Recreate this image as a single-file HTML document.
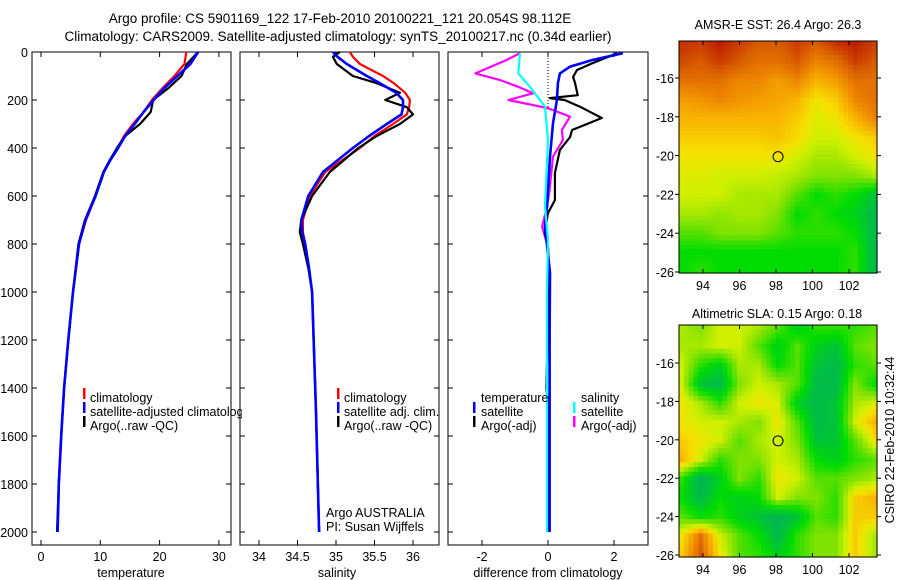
<!DOCTYPE html>
<html><head><meta charset="utf-8"><style>
html,body{margin:0;padding:0;background:#fff;}
svg{display:block;font-family:"Liberation Sans",sans-serif;}
</style></head><body>
<svg id="fig" width="900" height="580" viewBox="0 0 900 580" xmlns="http://www.w3.org/2000/svg">
<defs><clipPath id="legclip"><rect x="0" y="0" width="242" height="580"/></clipPath></defs>
<text x="340" y="23" font-size="13.5" text-anchor="middle">Argo profile: CS 5901169_122 17-Feb-2010 20100221_121 20.054S 98.112E</text>
<text x="338" y="41" font-size="13.5" text-anchor="middle">Climatology: CARS2009. Satellite-adjusted climatology: synTS_20100217.nc (0.34d earlier)</text>
<g id="p1"></g>
<g id="p2"></g>
<g id="p3"></g>
<g id="m1"></g>
<g id="m2"></g>
<text x="778" y="29" font-size="12.5" text-anchor="middle">AMSR-E SST: 26.4 Argo: 26.3</text>
<text x="777" y="318" font-size="12.5" text-anchor="middle">Altimetric SLA: 0.15 Argo: 0.18</text>
<text transform="translate(894,440) rotate(-90)" font-size="12.5" text-anchor="middle">CSIRO 22-Feb-2010 10:32:44</text>
</svg>
<script>
// ---- data ----
const tDepth=[0,50,100,150,200,250,300,350,400,450,500,600,700,800,1000,1200,1400,1600,1800,2000];
const tArgo=[26.5,24.6,23.7,21.5,18.9,18.5,16.7,14.2,12.8,11.6,10.5,9.1,7.4,6.3,5.4,4.6,3.9,3.4,3.0,2.7];
const tClim=[24.5,24.2,22.5,20.5,18.7,17.3,15.5,14.0,12.9,11.7,10.6,9.2,7.6,6.4,5.4,4.6,3.9,3.4,3.0,2.8];
const tSat=[26.5,25.2,23.0,20.8,19.0,17.3,15.8,14.2,13.0,11.7,10.6,9.2,7.5,6.4,5.4,4.6,3.9,3.4,3.0,2.8];
const sDepth=[0,20,50,100,130,170,200,230,260,300,350,400,500,600,700,750,800,900,1000,1500,2000];
const sArgo=[35.05,34.96,35.01,35.22,35.53,35.83,35.64,35.92,36.0,35.83,35.53,35.29,34.92,34.69,34.55,34.53,34.57,34.64,34.69,34.74,34.78];
const sClim=[35.18,35.22,35.31,35.61,35.75,35.9,35.96,35.95,35.92,35.74,35.5,35.31,34.86,34.66,34.57,34.57,34.6,34.65,34.69,34.74,34.78];
const sSat=[34.96,35.02,35.14,35.4,35.57,35.78,35.87,35.87,35.85,35.66,35.43,35.22,34.83,34.64,34.55,34.56,34.6,34.65,34.69,34.74,34.78];
const dTArgoDepth=[5,46,75,104,130,180,192,200,228,275,325,354,408,505,617,671,754,812,1000,1400,1500,2000];
const dTArgo=[2.1,1.36,0.88,0.76,0.82,0.9,0.06,0.5,0.97,1.63,0.73,0.67,0.36,0.21,0.21,0,-0.1,0,0.02,-0.05,0.02,0.02];
const dTSatDepth=[5,33,61,89,130,200,297,436,644,728,919,1200,2000];
const dTSat=[2.27,1.36,0.67,0.36,0.3,0.27,0.15,0.06,-0.03,-0.09,0.06,0.05,0.05];
const dSArgoDepth=[5,33,89,117,145,172,200,234,269,325,367,436,575,644,728,812,1000,2000];
const dSArgo=[-0.85,-1.25,-2.2,-1.45,-0.9,-0.45,-1.2,0,0.67,0.42,0.45,0.15,0.05,-0.03,-0.18,0,0.05,0.05];
const dSSatDepth=[5,89,145,228,367,644,783,1000,2000];
const dSSat=[-0.85,-0.9,-0.55,-0.09,0,-0.09,0,-0.03,-0.03];
const depthTicks=[0,200,400,600,800,1000,1200,1400,1600,1800,2000];
const tTicks=[0,10,20,30];
const sTicks=[34,34.5,35,35.5,36];
const dTicks=[-2,0,2];
const lonTicks=[94,96,98,100,102];
const latTicks=[-16,-18,-20,-22,-24,-26];
const argoLon=98.112, argoLat=-20.054;
const sstGrid=[
[.92,.9,.95,.9,.85,.85,.9,.85,.92,.95,.9],
[.88,.85,.9,.85,.8,.8,.85,.75,.8,.9,.85],
[.8,.8,.8,.75,.75,.7,.75,.65,.7,.8,.8],
[.7,.72,.75,.72,.7,.68,.65,.55,.6,.75,.8],
[.65,.65,.65,.65,.65,.65,.6,.52,.55,.65,.75],
[.6,.6,.6,.6,.6,.62,.57,.5,.5,.55,.6],
[.55,.55,.55,.55,.55,.55,.5,.45,.45,.5,.55],
[.52,.52,.5,.5,.5,.48,.45,.4,.4,.4,.45],
[.5,.5,.5,.45,.45,.45,.35,.25,.3,.25,.15],
[.45,.45,.42,.45,.45,.4,.25,.3,.25,.2,.1],
[.35,.35,.4,.4,.4,.35,.3,.3,.3,.25,.1],
[.25,.25,.25,.25,.25,.25,.25,.25,.25,.3,.1],
[.25,.3,.25,.25,.25,.25,.25,.25,.25,.3,.1]];
const slaGrid=[
[.45,.4,.5,.5,.45,.35,.2,.3,.3,.3,.35],
[.45,.45,.5,.5,.35,.2,.35,.2,.15,.35,.4],
[.5,.3,.2,.45,.45,.25,.35,.15,.1,.3,.35],
[.5,.15,.1,.4,.5,.45,.35,.1,.1,.4,.25],
[.55,.45,.3,.5,.55,.5,.2,.1,.15,.45,.5],
[.55,.5,.5,.45,.4,.55,.35,.1,.15,.5,.65],
[.6,.55,.5,.35,.45,.5,.4,.15,.15,.35,.55],
[.65,.5,.3,.4,.4,.5,.45,.25,.2,.3,.35],
[.3,.05,.2,.4,.3,.55,.5,.35,.35,.4,.45],
[.25,.1,.25,.2,.25,.5,.4,.4,.3,.6,.65],
[.35,.25,.3,.2,.15,.05,.15,.35,.3,.6,.6],
[.55,.8,.5,.35,.25,.1,.3,.4,.4,.6,.45],
[.6,.85,.55,.35,.3,.2,.3,.4,.4,.6,.45]];

const NS="http://www.w3.org/2000/svg";
function mk(tag,attrs,parent){const e=document.createElementNS(NS,tag);for(const k in attrs)e.setAttribute(k,attrs[k]);parent.appendChild(e);return e;}
const yDepth=d=>52+d*0.24;
const xT=v=>41+5.93*v, xS=v=>259+77*(v-34), xD=v=>548+33*v;

function panel(g,x0,x1,name){
  const r=mk('rect',{x:x0,y:52,width:x1-x0,height:493,fill:'none',stroke:'#000','stroke-width':1},g);
  
  
  depthTicks.forEach(d=>{
    const y=yDepth(d);
    mk('line',{x1:x0,x2:x0+5,y1:y,y2:y,stroke:'#000'},g);
    mk('line',{x1:x1-5,x2:x1,y1:y,y2:y,stroke:'#000'},g);
  });
}
function xticks(g,ticks,fx,fmt){
  ticks.forEach(v=>{
    const x=fx(v);
    mk('line',{x1:x,x2:x,y1:52,y2:57,stroke:'#000'},g);
    mk('line',{x1:x,x2:x,y1:540,y2:545,stroke:'#000'},g);
    const t=mk('text',{x:x,y:561,'font-size':12.5,'text-anchor':'middle'},g);
    t.textContent=fmt?fmt(v):v;
    
    
  });
}
function line(g,depths,vals,fx,color,name,w){
  const pts=depths.map((d,i)=>fx(vals[i]).toFixed(1)+','+yDepth(d).toFixed(1)).join(' ');
  const p=mk('polyline',{points:pts,fill:'none',stroke:color,'stroke-width':w||2.2,'stroke-linejoin':'round'},g);
  
  
}
function label(g,x,y,s,name,anchor){
  const t=mk('text',{x:x,y:y,'font-size':12.5,'text-anchor':anchor||'start'},g);
  t.textContent=s;
  
  
  return t;
}
function mark(g,x,y,c){mk('rect',{x:x,y:y-10,width:2.5,height:11,fill:c},g);}

// panel 1
const p1=document.getElementById('p1');
panel(p1,32,231,'temperature-panel');
depthTicks.forEach(d=>{
  label(p1,28,yDepth(d)+5,String(d),'y-tick-label','end');
});
xticks(p1,tTicks,xT);
line(p1,tDepth,tClim,xT,'#ff0000','temperature-climatology-line');
line(p1,tDepth,tArgo,xT,'#000000','temperature-argo-line');
line(p1,tDepth,tSat,xT,'#0000ff','temperature-satellite-line',2.6);
label(p1,131,577,'temperature','x-axis-title-temperature','middle');
mark(p1,83,398,'#f00');mark(p1,83,412,'#00f');mark(p1,83,426,'#000');
label(p1,90,402,'climatology','legend-entry-climatology');
label(p1,90,416,'satellite-adjusted climatology','legend-entry-satellite-adjusted').setAttribute('clip-path','url(#legclip)');
label(p1,90,430,'Argo(..raw -QC)','legend-entry-argo');

// panel 2
const p2=document.getElementById('p2');
panel(p2,240,439,'salinity-panel');
xticks(p2,sTicks,xS);
line(p2,sDepth,sClim,xS,'#ff0000','salinity-climatology-line');
line(p2,sDepth,sArgo,xS,'#000000','salinity-argo-line');
line(p2,sDepth,sSat,xS,'#0000ff','salinity-satellite-line',2.6);
label(p2,337,577,'salinity','x-axis-title-salinity','middle');
mark(p2,337,398,'#f00');mark(p2,337,412,'#00f');mark(p2,337,426,'#000');
label(p2,344,402,'climatology','legend-entry-climatology');
label(p2,344,416,'satellite adj. clim.','legend-entry-satellite-adj');
label(p2,344,430,'Argo(..raw -QC)','legend-entry-argo');
label(p2,326,517,'Argo AUSTRALIA','argo-australia-label');
label(p2,326,531,'PI: Susan Wijffels','pi-label');

// panel 3
const p3=document.getElementById('p3');
panel(p3,448,648,'difference-panel');
xticks(p3,dTicks,xD,v=>v<0?'-'+Math.abs(v):String(v));
mk('line',{x1:xD(0),x2:xD(0),y1:52,y2:yDepth(240),stroke:'#000','stroke-dasharray':'1,2'},p3);
line(p3,dSArgoDepth,dSArgo,xD,'#ff00ff','salinity-argo-diff-line');
line(p3,dTArgoDepth,dTArgo,xD,'#000000','temperature-argo-diff-line');
line(p3,dTSatDepth,dTSat,xD,'#0000ff','temperature-satellite-diff-line',2.6);
line(p3,dSSatDepth,dSSat,xD,'#00ffff','salinity-satellite-diff-line');
label(p3,548,577,'difference from climatology','x-axis-title-difference','middle');
label(p3,481,402,'temperature','legend-header-temperature');
label(p3,581,402,'salinity','legend-header-salinity');
mark(p3,473,412,'#00f');mark(p3,473,426,'#000');
mark(p3,573,412,'#0ff');mark(p3,573,426,'#f0f');
label(p3,481,416,'satellite','legend-entry-temp-satellite');
label(p3,481,430,'Argo(-adj)','legend-entry-temp-argo');
label(p3,581,416,'satellite','legend-entry-sal-satellite');
label(p3,581,430,'Argo(-adj)','legend-entry-sal-argo');

// maps
const stops=[[0,[0,176,80]],[0.12,[0,190,70]],[0.25,[0,220,0]],[0.4,[128,226,0]],[0.5,[208,240,0]],[0.56,[245,225,0]],[0.65,[248,180,0]],[0.75,[238,135,0]],[0.85,[216,92,0]],[0.95,[190,30,0]],[1,[170,0,0]]];
function cmap(v){
  v=Math.max(0,Math.min(1,v));
  for(let i=1;i<stops.length;i++){if(v<=stops[i][0]){const a=stops[i-1],b=stops[i],f=(v-a[0])/(b[0]-a[0]);
    return 'rgb('+a[1].map((c,k)=>Math.round(c+(b[1][k]-c)*f)).join(',')+')';}}
  return 'rgb(170,0,0)';
}
function drawMap(g,grid,top,bot,yLat16,pxLat,name){
  const left=679,right=877,fx=lon=>703+(lon-94)*18.25,fy=lat=>yLat16+(-16-lat)*pxLat;
  const R=grid.length,C=grid[0].length,sub=4;
  const nr=(R-1)*sub+1,nc=(C-1)*sub+1;
  const cw=(right-left)/nc,ch=(bot-top)/nr;
  for(let i=0;i<nr;i++)for(let j=0;j<nc;j++){
    const gi=i/sub,gj=j/sub,i0=Math.min(Math.floor(gi),R-2),j0=Math.min(Math.floor(gj),C-2),fi=gi-i0,fj=gj-j0;
    const v=grid[i0][j0]*(1-fi)*(1-fj)+grid[i0+1][j0]*fi*(1-fj)+grid[i0][j0+1]*(1-fi)*fj+grid[i0+1][j0+1]*fi*fj;
    mk('rect',{x:(left+j*cw).toFixed(2),y:(top+i*ch).toFixed(2),width:(cw+0.6).toFixed(2),height:(ch+0.6).toFixed(2),fill:cmap(v)},g);
  }
  const fr=mk('rect',{x:left,y:top,width:right-left,height:bot-top,fill:'none',stroke:'#000'},g);
  
  
  lonTicks.forEach(l=>{const x=fx(l);
    mk('line',{x1:x,x2:x,y1:top,y2:top+4,stroke:'#000'},g);
    mk('line',{x1:x,x2:x,y1:bot-4,y2:bot,stroke:'#000'},g);
    label(g,x,bot+17,String(l),'lon-tick-label','middle');});
  latTicks.forEach(l=>{const y=fy(l);
    mk('line',{x1:left-4,x2:left,y1:y,y2:y,stroke:'#000'},g);
    mk('line',{x1:right,x2:right+4,y1:y,y2:y,stroke:'#000'},g);
    label(g,left-5,y+5,String(l),'lat-tick-label','end');});
  const c=mk('circle',{cx:fx(argoLon),cy:fy(argoLat),r:5,fill:'none',stroke:'#000','stroke-width':1},g);
  
  
}
drawMap(document.getElementById('m1'),sstGrid,41,273,78,19.4,'sst-map');
drawMap(document.getElementById('m2'),slaGrid,325,557,363,19.2,'sla-map');
</script>
</body></html>
